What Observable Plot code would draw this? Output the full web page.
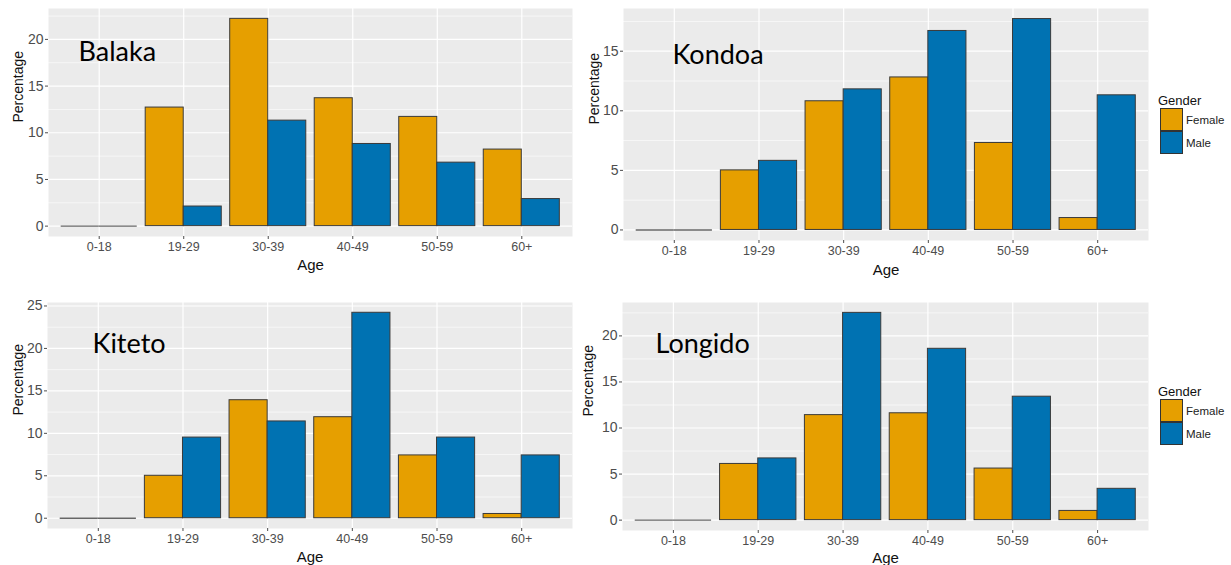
<!DOCTYPE html>
<html>
<head>
<meta charset="utf-8">
<script src="https://cdn.jsdelivr.net/npm/d3@7"></script>
<script src="https://cdn.jsdelivr.net/npm/@observablehq/plot@0.6"></script>
<style>
  body { margin: 0; background: #fff; }
  #wrap { position: relative; width: 1231px; height: 565px; overflow: hidden; font-family: "Liberation Sans", Arial, sans-serif; }
  .panel { position: absolute; }
  .legend { position: absolute; font-family: "Liberation Sans", Arial, sans-serif; color: #111; }
  .legend .title { font-size: 13px; line-height: 14px; margin-left: -2px; }
  .legend .item { display: flex; align-items: center; height: 23px; }
  .legend .key { width: 21px; height: 21px; border: 1px solid #333; margin-right: 3px; }
  .legend .lab { font-size: 11.5px; color: #222; }
</style>
</head>
<body>
<div id="wrap"></div>
<script>
// ---- data ----
const ages = ["0-18", "19-29", "30-39", "40-49", "50-59", "60+"];
const genders = ["Female", "Male"];
const genderColors = ["#E69F00", "#0072B2"];

const balakaFemale = [0, 12.7, 22.2, 13.7, 11.7, 8.2];
const balakaMale   = [0, 2.1, 11.3, 8.8, 6.8, 2.9];
const kondoaFemale = [0, 5.0, 10.8, 12.8, 7.3, 1.0];
const kondoaMale   = [0, 5.8, 11.8, 16.7, 17.7, 11.3];
const kitetoFemale = [0, 5.0, 13.9, 11.9, 7.4, 0.5];
const kitetoMale   = [0, 9.5, 11.4, 24.2, 9.5, 7.4];
const longidoFemale = [0, 6.1, 11.4, 11.6, 5.6, 1.0];
const longidoMale   = [0, 6.7, 22.5, 18.6, 13.4, 3.4];

const balakaTicks = [0, 5, 10, 15, 20];
const kondoaTicks = [0, 5, 10, 15];
const kitetoTicks = [0, 5, 10, 15, 20, 25];
const longidoTicks = [0, 5, 10, 15, 20];

// ---- helpers ----
function rows(female, male) {
  return ages.flatMap((a, i) => [
    {age: a, gender: "Female", idx: i + 1, value: female[i]},
    {age: a, gender: "Male", idx: i + 1, value: male[i]}
  ]);
}

function panel(cfg) {
  const data = rows(cfg.female, cfg.male);
  const maxV = d3.max(data, d => d.value);
  const yDomain = [-0.05 * maxV, 1.05 * maxV];
  const xTicks = ages.map((_, i) => i + 1);
  const minor = cfg.ticks.map(t => t + 2.5).filter(t => t < yDomain[1]);
  const x1 = d => d.gender === "Female" ? d.idx - 0.45 : d.idx;
  const x2 = d => d.gender === "Female" ? d.idx : d.idx + 0.45;
  return Plot.plot({
    width: cfg.width,
    height: cfg.height,
    marginLeft: cfg.ml, marginRight: cfg.mr, marginTop: cfg.mt, marginBottom: cfg.mb,
    style: {fontFamily: "'Liberation Sans', Arial, sans-serif", background: "transparent", overflow: "visible"},
    x: {domain: [0.4, 6.6], axis: null},
    y: {domain: yDomain, axis: null},
    color: {domain: genders, range: genderColors},
    marks: [
      Plot.frame({fill: "#EBEBEB", stroke: "none"}),
      Plot.ruleY(minor, {stroke: "white", strokeWidth: 0.6}),
      Plot.gridY(cfg.ticks, {stroke: "white", strokeOpacity: 1, strokeWidth: 1.2}),
      Plot.gridX(xTicks, {stroke: "white", strokeOpacity: 1, strokeWidth: 1.2}),
      Plot.rectY(data, {filter: d => d.value > 0, x1, x2, y: "value", fill: "gender", stroke: "#3a3a3a", strokeWidth: 1}),
      Plot.ruleY(data, {filter: d => d.value === 0, x1, x2, y: "value", stroke: "#666", strokeWidth: 1.4}),
      Plot.axisX(xTicks, {tickFormat: i => ages[i - 1], tickSize: 3, tickPadding: 3, fontSize: 12.5, color: "#4D4D4D", label: null}),
      Plot.axisY(cfg.ticks, {tickSize: 3, tickPadding: 2, fontSize: 14, color: "#4D4D4D", label: null}),
      Plot.text(["Age"], {frameAnchor: "bottom", dy: cfg.ageDy, fontSize: 15, fill: "#111", lineAnchor: "middle"}),
      Plot.text(["Percentage"], {frameAnchor: "left", dx: -cfg.pctDx, rotate: -90, fontSize: 14, fill: "#111", lineAnchor: "middle"}),
      Plot.text([cfg.name], {frameAnchor: "top-left", dx: cfg.nameDx, dy: cfg.nameDy, textAnchor: "start", lineAnchor: "middle",
        fontSize: 27, fill: "#000", fontFamily: "Lato, 'Open Sans', sans-serif"})
    ]
  });
}

function place(node, left, top) {
  const d = document.createElement("div");
  d.className = "panel";
  d.style.left = left + "px";
  d.style.top = top + "px";
  d.appendChild(node);
  document.getElementById("wrap").appendChild(d);
}

function legend(left, top) {
  const d = document.createElement("div");
  d.className = "legend";
  d.style.left = left + "px";
  d.style.top = top + "px";
  let html = '<div class="title">Gender</div>';
  genders.forEach((g, i) => {
    html += `<div class="item"><div class="key" style="background:${genderColors[i]}"></div><span class="lab">${g}</span></div>`;
  });
  d.innerHTML = html;
  document.getElementById("wrap").appendChild(d);
}

place(panel({name: "Balaka", female: balakaFemale, male: balakaMale, ticks: balakaTicks,
  width: 580, height: 280, ml: 48, mr: 8, mt: 8, mb: 44, ageDy: 29, pctDx: 30, nameDx: 30, nameDy: 44}), 0, 0);
place(panel({name: "Kondoa", female: kondoaFemale, male: kondoaMale, ticks: kondoaTicks,
  width: 651, height: 280, ml: 43, mr: 83, mt: 8, mb: 40, ageDy: 30, pctDx: 29, nameDx: 49, nameDy: 47}), 580, 0);
place(panel({name: "Kiteto", female: kitetoFemale, male: kitetoMale, ticks: kitetoTicks,
  width: 580, height: 285, ml: 47, mr: 8, mt: 22, mb: 37, ageDy: 29, pctDx: 29, nameDx: 45, nameDy: 42}), 0, 280);
place(panel({name: "Longido", female: longidoFemale, male: longidoMale, ticks: longidoTicks,
  width: 651, height: 285, ml: 42, mr: 83, mt: 22, mb: 35, ageDy: 28, pctDx: 34, nameDx: 33, nameDy: 42}), 580, 280);

legend(1160, 94);
legend(1160, 385);
</script>
</body>
</html>
